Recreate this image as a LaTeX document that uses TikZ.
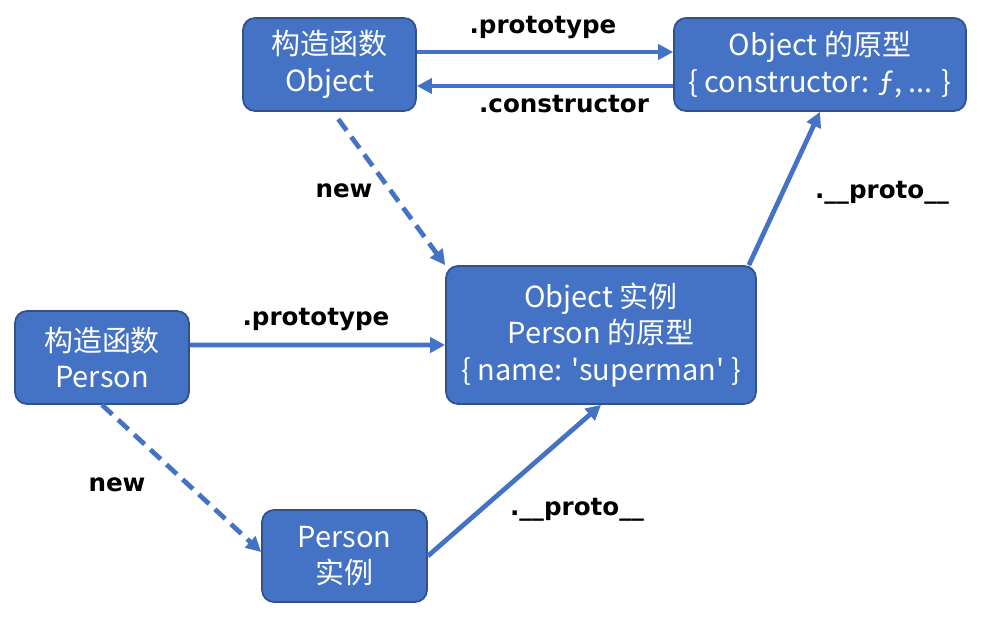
\documentclass[tikz,border=0pt]{standalone}
\usepackage{fontspec}
\setmainfont{DejaVu Sans}
\newfontfamily\cjkfont{Noto Sans CJK SC}
\usetikzlibrary{arrows.meta, positioning}
\definecolor{boxfill}{HTML}{4472C4}
\definecolor{boxline}{HTML}{2F528F}
\tikzstyle{box}       = [draw=boxline, fill=boxfill, line width=1pt, rounded corners=0.24cm, align=center, text=white, font=\cjkfont\fontsize{16.5}{21}\selectfont, inner sep=0pt]
\tikzstyle{lbl}       = [font=\bfseries\fontsize{14}{16}\selectfont, text=black]
\tikzstyle{diredge}   = [draw=boxfill, line width=2.7pt, ->, >={Triangle[length=0.3cm, width=0.3cm]}]
\tikzstyle{newedge}   = [diredge, dash pattern=on 8pt off 4.5pt]

\begin{document}
\begin{tikzpicture}[
        x=0.02cm,
        y=-0.02cm
    ]
        \useasboundingbox (0,0) rectangle (983,622);

        % Konstruktory
        \node[box, minimum width=3.46cm, minimum height=1.86cm] (octor) at (329.5, 64.5)
            {构造函数\\Object};
        \node[box, minimum width=3.48cm, minimum height=1.86cm] (pctor) at (102, 357.5)
            {构造函数\\Person};

        % Prototypy
        \node[box, minimum width=5.84cm, minimum height=1.86cm] (oproto) at (820, 64.5)
            {Object 的原型\\\{ constructor: ƒ, ... \}};
        \node[box, minimum width=6.2cm, minimum height=2.76cm] (pproto) at (601, 335)
            {Object 实例\\Person 的原型\\\{ name: \textquotesingle superman\textquotesingle\ \}};

        % Instance
        \node[box, minimum width=3.3cm, minimum height=1.84cm] (pinst) at (344.5, 556)
            {Person\\实例};

        % Hrany
        \draw[diredge] ([yshift=0.25cm]octor.east) -- ([yshift=0.25cm]oproto.west);
        \draw[diredge] ([yshift=-0.43cm]oproto.west) -- ([yshift=-0.43cm]octor.east);
        \draw[newedge, shorten <=0.18cm] ([xshift=0.07cm]octor.south) -- (pproto.north west);
        \draw[diredge] ([xshift=-0.16cm]pproto.north east) -- (oproto.south);
        \draw[diredge] ([yshift=0.25cm]pctor.east) -- ([yshift=-0.2cm]pproto.west);
        \draw[newedge] (pctor.south) -- ([yshift=0.08cm]pinst.west);
        \draw[diredge] (pinst.east) -- (pproto.south);

        % Popisky
        \node[lbl] (l1) at (543, 28) {.prototype};
        \node[lbl] (l2) at (564, 104) {.constructor};
        \node[lbl] (l3) at (344, 191) {new};
        \node[lbl] (l4) at (882, 193) {.\_\_proto\_\_};
        \node[lbl] (l5) at (316, 320) {.prototype};
        \node[lbl] (l6) at (117, 485) {new};
        \node[lbl] (l7) at (577, 510) {.\_\_proto\_\_};

    \end{tikzpicture}
\end{document}
